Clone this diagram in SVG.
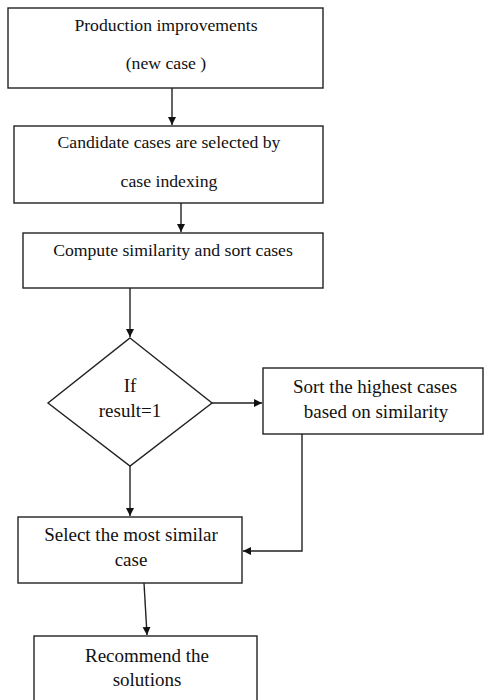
<svg xmlns="http://www.w3.org/2000/svg" width="484" height="700" viewBox="0 0 484 700">
<defs>
<marker id="ah" markerWidth="9" markerHeight="9" refX="8" refY="4" orient="auto" markerUnits="userSpaceOnUse">
<path d="M0,0 L8,4 L0,8 Z" fill="#111"/>
</marker>
<style>
.box{fill:#fff;stroke:#222;stroke-width:1.4}
.t{fill:#111;text-anchor:middle}
.s1{font-size:17.7px}
.s2{font-size:19px}
.c{fill:none;stroke:#222;stroke-width:1.4}
</style>
</defs>
<rect width="484" height="700" fill="#fff"/>
<g id="connectors">
<line class="c" x1="172" y1="88" x2="172" y2="125" marker-end="url(#ah)"/>
<line class="c" x1="181" y1="203" x2="181" y2="232" marker-end="url(#ah)"/>
<line class="c" x1="130" y1="288" x2="130" y2="337" marker-end="url(#ah)"/>
<line class="c" x1="212" y1="403" x2="262" y2="403" marker-end="url(#ah)"/>
<line class="c" x1="130" y1="466" x2="130" y2="516" marker-end="url(#ah)"/>
<polyline class="c" points="302,434 302,551 243,551" marker-end="url(#ah)"/>
<line class="c" x1="144" y1="583" x2="147" y2="635" marker-end="url(#ah)"/>
</g>
<g font-family="'Liberation Serif', 'Times New Roman', serif">
<g id="n1">
<rect class="box" x="8" y="8" width="315" height="80"/>
<text class="t s1" x="166" y="31">Production improvements</text>
<text class="t s1" x="166" y="69">(new case )</text>
</g>
<g id="n2">
<rect class="box" x="14" y="126" width="309" height="77"/>
<text class="t s1" x="169" y="148">Candidate cases are selected by</text>
<text class="t s1" x="169" y="187">case indexing</text>
</g>
<g id="n3">
<rect class="box" x="23" y="233" width="300" height="55"/>
<text class="t s1" x="173" y="256">Compute similarity and sort cases</text>
</g>
<g id="n4">
<polygon class="box" points="130,338 212,403 130,466 48,403"/>
<text class="t s2" x="130" y="392">If</text>
<text class="t s2" x="130" y="417">result=1</text>
</g>
<g id="n5">
<rect class="box" x="263" y="368" width="220" height="66"/>
<text class="t s2" x="375" y="393">Sort the highest cases</text>
<text class="t s2" x="376" y="418">based on similarity</text>
</g>
<g id="n6">
<rect class="box" x="18" y="517" width="224" height="66"/>
<text class="t s2" x="131" y="541">Select the most similar</text>
<text class="t s2" x="131" y="566">case</text>
</g>
<g id="n7">
<rect class="box" x="34" y="636" width="223" height="80"/>
<text class="t s2" x="147" y="662">Recommend the</text>
<text class="t s2" x="147" y="686">solutions</text>
</g>
</g>
</svg>
